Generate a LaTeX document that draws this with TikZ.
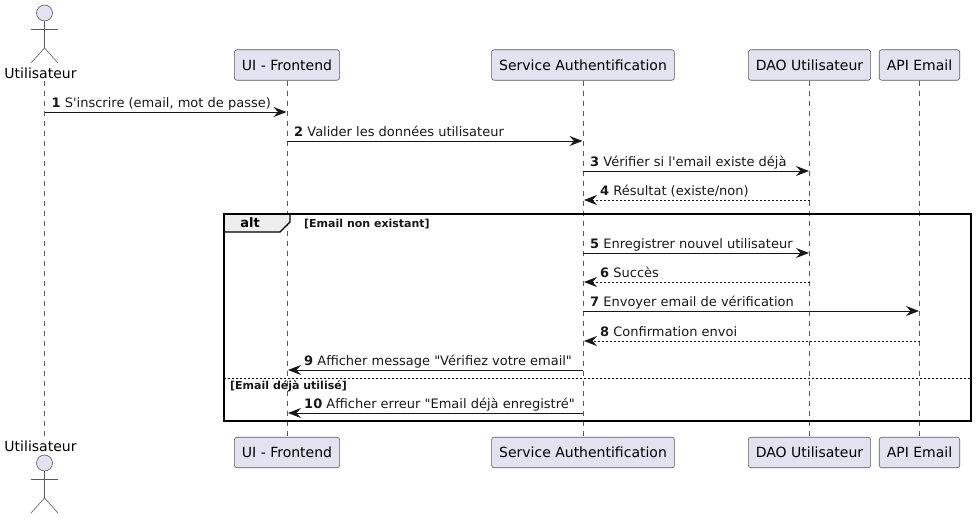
\documentclass[tikz,border=0pt]{standalone}
\usepackage{fontspec}
\newfontfamily\umlfont{DejaVu Sans}
\usetikzlibrary{arrows.meta}

\tikzset{
    partbox/.style={draw=boxBorder, fill=boxFill, rounded corners=2.5pt, line width=0.6pt, font=\umlfont\fontsize{14}{16}\selectfont, inner xsep=7.5pt, inner ysep=0pt, minimum height=30.5pt},
    actorname/.style={font=\umlfont\fontsize{14}{16}\selectfont, inner sep=0pt, minimum height=16pt},
    actorline/.style={draw=boxBorder, line width=0.6pt},
    lifeline/.style={draw=boxBorder, line width=0.6pt, dash pattern=on 5pt off 5pt},
    msgarrow/.style={draw=msgColour, line width=0.9pt, -{Stealth[length=13pt,width=10pt,inset=4.5pt]}},
    replydash/.style={line width=0.8pt, dash pattern=on 2pt off 2pt},
    msglabel/.style={font=\umlfont\fontsize{13}{15}\selectfont, anchor=base west, inner sep=0pt, text=msgColour},
    guardlabel/.style={font=\umlfont\bfseries\fontsize{11}{13}\selectfont, anchor=base west, inner sep=0pt, text=msgColour},
}

\begin{document}
\begin{tikzpicture}[x=1pt, y=-1pt]
    % Define colours
    \definecolor{boxBorder}{HTML}{5A5A5A}
    \definecolor{boxFill}{HTML}{E2E2F0}
    \definecolor{msgColour}{HTML}{181818}
    \definecolor{tabFill}{HTML}{EEEEEE}

    % Fix the page size
    \useasboundingbox (0,0) rectangle (976,518);

    % Participants, top and bottom
    \node[actorname] (userName) at (40.5,73) {Utilisateur};
    \node[actorname] (userNameBot) at (40.5,446) {Utilisateur};
    \coordinate (userTop) at (44.5,81);
    \coordinate (userBot) at (44.5,437);
    \foreach \name/\xpos/\txt in {ui/287/UI - Frontend, auth/583/Service Authentification, dao/809.5/DAO Utilisateur, api/919.5/API Email} {
        \node[partbox] (\name Top) at (\xpos,65) {\txt};
        \node[partbox] (\name Bot) at (\xpos,452.5) {\txt};
    }

    % Draw actor figures
    \foreach \top in {5,455} {
        \draw[actorline, fill=boxFill] (44.5,\top+8) circle (8);
        \draw[actorline] (44.5,\top+16) -- (44.5,\top+43);
        \draw[actorline] (31,\top+24) -- (58,\top+24);
        \draw[actorline] (31,\top+58) -- (44.5,\top+43) -- (58,\top+58);
    }

    % Draw lifelines
    \draw[lifeline] (userTop) -- (userBot);
    \foreach \name in {ui,auth,dao,api}
        \draw[lifeline] (\name Top) -- (\name Bot);

    % Draw the alt frame
    \draw[fill=tabFill, line width=1.1pt] (224,214) -- (290,214) -- (290,222) -- (280,232) -- (224,232) -- cycle;
    \node[inner sep=0pt] (altName) at (250,223) {\umlfont\bfseries\fontsize{13}{15}\selectfont alt};
    \draw[line width=1.6pt] (224,214) rectangle (971,421);
    \draw[line width=0.8pt, dash pattern=on 2pt off 2pt] (224,378) -- (971,378);
    \node[guardlabel] (guardOne) at (304,227.5) {[Email non existant]};
    \node[guardlabel] (guardTwo) at (230,389) {[Email déjà utilisé]};

    % Messages going right
    \foreach \from/\to/\num/\ypos/\txt in {
        userTop/uiTop/1/112/{S'inscrire (email, mot de passe)},
        uiTop/authTop/2/141/{Valider les données utilisateur},
        authTop/daoTop/3/171/{Vérifier si l'email existe déjà},
        authTop/daoTop/5/253/{Enregistrer nouvel utilisateur},
        authTop/apiTop/7/311/{Envoyer email de vérification}} {
        \coordinate (msg\num) at (0,\ypos);
        \draw[msgarrow, shorten >=0.5pt] (\from |- msg\num) -- (\to |- msg\num);
        \node[msglabel] (label\num) at ([shift={(7,-4.5)}]\from |- msg\num) {\textbf{\num} \txt};
    }

    % Messages going left
    \foreach \from/\to/\num/\ypos/\kind/\txt in {
        daoTop/authTop/4/200/replydash/{Résultat (existe/non)},
        daoTop/authTop/6/282/replydash/{Succès},
        apiTop/authTop/8/341/replydash/{Confirmation envoi},
        authTop/uiTop/9/370/solid/{Afficher message "Vérifiez votre email"},
        authTop/uiTop/10/413/solid/{Afficher erreur "Email déjà enregistré"}} {
        \coordinate (msg\num) at (0,\ypos);
        \draw[msgarrow, \kind, shorten >=1pt] (\from |- msg\num) -- (\to |- msg\num);
        \node[msglabel] (label\num) at ([shift={(17,-4.5)}]\to |- msg\num) {\textbf{\num} \txt};
    }
\end{tikzpicture}
\end{document}
